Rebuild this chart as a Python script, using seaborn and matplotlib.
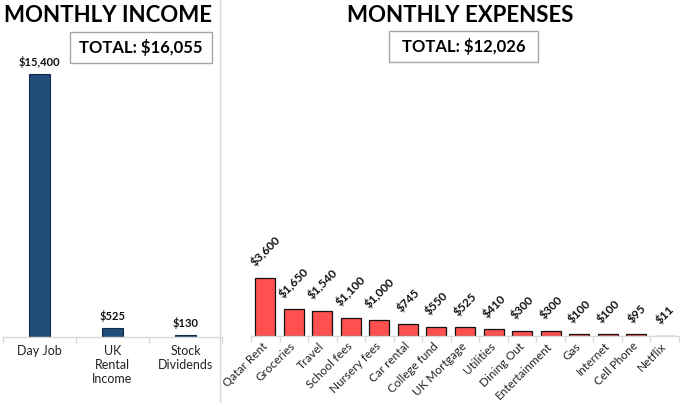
import matplotlib
matplotlib.use("Agg")
import matplotlib.pyplot as plt
from matplotlib.patches import Rectangle
from matplotlib.lines import Line2D
import seaborn as sns
import numpy as np

income_cats = ["Day Job", "UK\nRental\nIncome", "Stock\nDividends"]
income_vals = [15400, 525, 130]
income_labels = ["$15,400", "$525", "$130"]
income_total = "TOTAL: $16,055"

expense_cats = ["Qatar Rent", "Groceries", "Travel", "School fees", "Nursery fees",
                "Car rental", "College fund", "UK Mortgage", "Utilities", "Dining Out",
                "Entertainment", "Gas", "Internet", "Cell Phone", "Netflix"]
expense_vals = [3600, 1650, 1540, 1100, 1000, 745, 550, 525, 410, 300, 300, 100, 100, 95, 11]
expense_labels = ["$3,600", "$1,650", "$1,540", "$1,100", "$1,000", "$745", "$550", "$525",
                  "$410", "$300", "$300", "$100", "$100", "$95", "$11"]
expense_total = "TOTAL: $12,026"

sns.set_theme(style="white")
plt.rcParams["font.family"] = ["Lato", "DejaVu Sans"]

W, H = 680, 403
fig = plt.figure(figsize=(W / 100, H / 100), dpi=100)
fig.patch.set_facecolor("white")

def fx(x):
    return x / W

def fy(y):
    return 1 - y / H

GRID = "#D9D9D9"

def style_axes(ax, n):
    for s in ["top", "right", "left"]:
        ax.spines[s].set_visible(False)
    ax.spines["bottom"].set_color(GRID)
    ax.spines["bottom"].set_linewidth(1.0)
    ax.set_yticks([])
    ax.set_xlim(-0.5, n - 0.5)
    ax.set_xticks(np.arange(-0.5, n, 1.0), minor=True)
    ax.tick_params(axis="x", which="minor", length=4, color=GRID, width=1, bottom=True)
    ax.tick_params(axis="x", which="major", length=0)
    ax.set_xlabel("")
    ax.set_ylabel("")
    ax.set_facecolor("white")

# Left: income
top_y = 40
axL = fig.add_axes([fx(3), fy(337), fx(222 - 3), (337 - top_y) / H])
sns.barplot(x=income_cats, y=income_vals, ax=axL, color="#1F4E79",
            edgecolor="#0F2A44", linewidth=0.8, width=0.3, saturation=1)
axL.set_ylim(0, (337 - top_y) / (263 / 15400))
style_axes(axL, len(income_cats))
axL.bar_label(axL.containers[0], labels=income_labels, padding=4,
              fontsize=8, fontweight="bold", color="#111111")
axL.set_xticks(range(len(income_cats)))
axL.set_xticklabels(income_cats, fontsize=9, color="#222222", linespacing=1.2)
axL.tick_params(axis="x", which="major", pad=6)

# Right: expenses
axR = fig.add_axes([fx(251), fy(336), fx(679 - 251), (336 - top_y) / H])
sns.barplot(x=expense_cats, y=expense_vals, ax=axR, color="#FF5050",
            edgecolor="#111111", linewidth=0.9, width=0.7, saturation=1)
axR.set_ylim(0, (336 - top_y) / 0.0162)
style_axes(axR, len(expense_cats))
axR.bar_label(axR.containers[0], labels=expense_labels, padding=7, rotation=45,
              fontsize=8.5, fontweight="bold", color="#111111")
axR.set_xticks(range(len(expense_cats)))
axR.set_xticklabels(expense_cats, fontsize=8.5, color="#222222", rotation=45,
                    ha="right", va="center", rotation_mode="anchor")
axR.tick_params(axis="x", which="major", pad=6)

# Titles
fig.text(fx(108), fy(15), "MONTHLY INCOME", ha="center", va="center",
         fontsize=16, fontweight="bold", color="#000000")
fig.text(fx(460), fy(15), "MONTHLY EXPENSES", ha="center", va="center",
         fontsize=16, fontweight="bold", color="#000000")

# Total boxes
def total_box(x0, y0, x1, y1, text):
    fig.add_artist(Rectangle((fx(x0), fy(y1)), fx(x1 - x0), (y1 - y0) / H,
                             transform=fig.transFigure, facecolor="white",
                             edgecolor="#A6A6A6", linewidth=1.0))
    fig.text(fx((x0 + x1) / 2), fy((y0 + y1) / 2), text, ha="center", va="center",
             fontsize=12, fontweight="bold", color="#000000")

total_box(70, 32, 212, 63, income_total)
total_box(389, 31, 538, 62, expense_total)

# separator line
fig.add_artist(Line2D([fx(220), fx(220)], [0, 1], transform=fig.transFigure,
                      color=GRID, linewidth=1.0))

fig.savefig("out.png", dpi=100, facecolor="white")
